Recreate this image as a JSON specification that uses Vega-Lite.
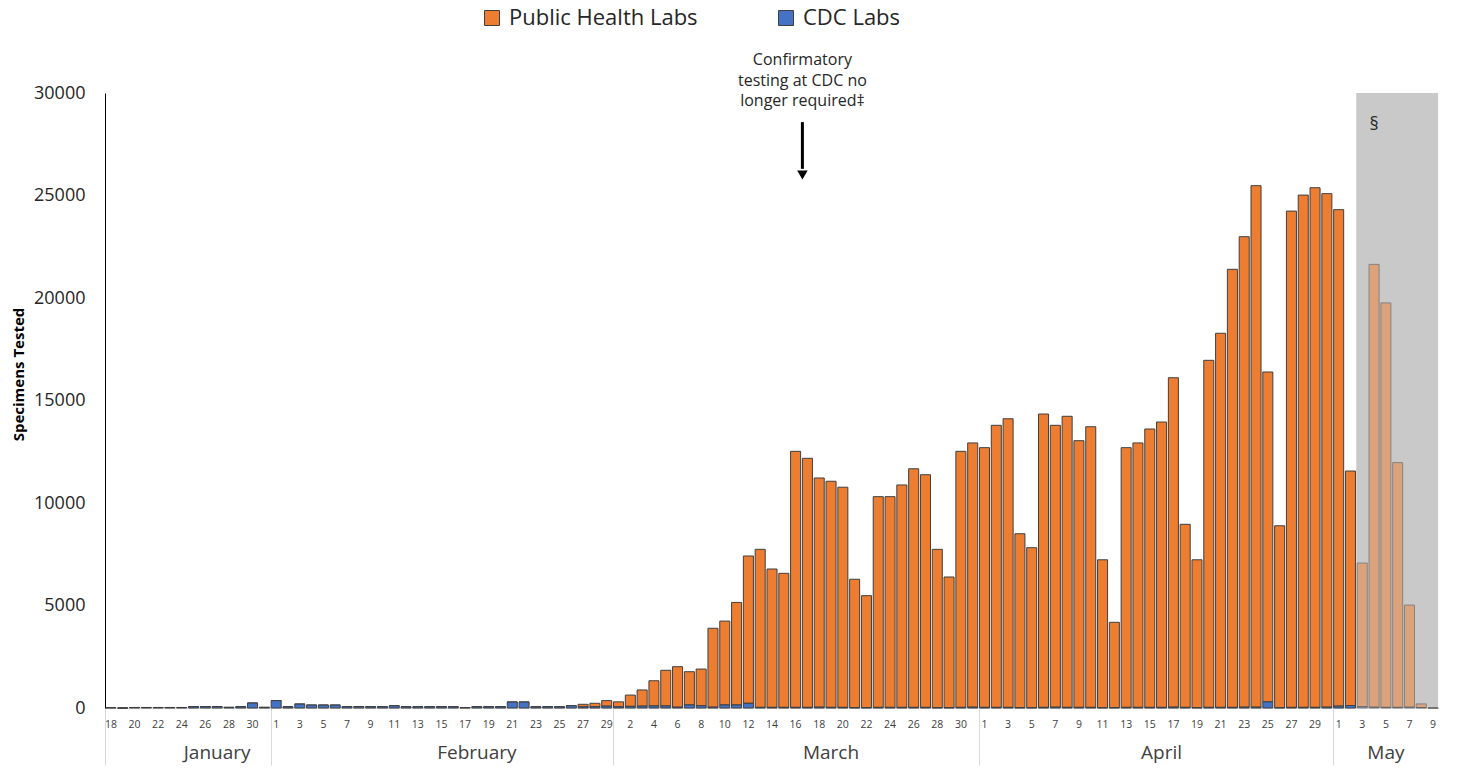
{
  "$schema": "https://vega.github.io/schema/vega-lite/v6.json",
  "width": 1334,
  "height": 615,
  "autosize": {"type": "none"},
  "padding": {"left": 105, "top": 93, "right": 28, "bottom": 61},
  "background": "white",
  "config": {"view": {"stroke": null}, "axis": {"grid": false}, "font": "Open Sans"},
  "data": {"values": [
    {"date": "2020-01-18", "cdc": 20, "phl": 0},
    {"date": "2020-01-19", "cdc": 0, "phl": 0},
    {"date": "2020-01-20", "cdc": 25, "phl": 0},
    {"date": "2020-01-21", "cdc": 25, "phl": 0},
    {"date": "2020-01-22", "cdc": 25, "phl": 0},
    {"date": "2020-01-23", "cdc": 25, "phl": 0},
    {"date": "2020-01-24", "cdc": 25, "phl": 0},
    {"date": "2020-01-25", "cdc": 60, "phl": 0},
    {"date": "2020-01-26", "cdc": 70, "phl": 0},
    {"date": "2020-01-27", "cdc": 70, "phl": 0},
    {"date": "2020-01-28", "cdc": 30, "phl": 0},
    {"date": "2020-01-29", "cdc": 60, "phl": 0},
    {"date": "2020-01-30", "cdc": 240, "phl": 0},
    {"date": "2020-01-31", "cdc": 30, "phl": 0},
    {"date": "2020-02-01", "cdc": 360, "phl": 0},
    {"date": "2020-02-02", "cdc": 60, "phl": 0},
    {"date": "2020-02-03", "cdc": 190, "phl": 0},
    {"date": "2020-02-04", "cdc": 140, "phl": 0},
    {"date": "2020-02-05", "cdc": 140, "phl": 0},
    {"date": "2020-02-06", "cdc": 140, "phl": 0},
    {"date": "2020-02-07", "cdc": 70, "phl": 0},
    {"date": "2020-02-08", "cdc": 70, "phl": 0},
    {"date": "2020-02-09", "cdc": 60, "phl": 0},
    {"date": "2020-02-10", "cdc": 60, "phl": 0},
    {"date": "2020-02-11", "cdc": 110, "phl": 0},
    {"date": "2020-02-12", "cdc": 60, "phl": 0},
    {"date": "2020-02-13", "cdc": 60, "phl": 0},
    {"date": "2020-02-14", "cdc": 60, "phl": 0},
    {"date": "2020-02-15", "cdc": 60, "phl": 0},
    {"date": "2020-02-16", "cdc": 60, "phl": 0},
    {"date": "2020-02-17", "cdc": 20, "phl": 0},
    {"date": "2020-02-18", "cdc": 60, "phl": 0},
    {"date": "2020-02-19", "cdc": 60, "phl": 0},
    {"date": "2020-02-20", "cdc": 60, "phl": 0},
    {"date": "2020-02-21", "cdc": 290, "phl": 0},
    {"date": "2020-02-22", "cdc": 290, "phl": 0},
    {"date": "2020-02-23", "cdc": 60, "phl": 0},
    {"date": "2020-02-24", "cdc": 60, "phl": 0},
    {"date": "2020-02-25", "cdc": 60, "phl": 0},
    {"date": "2020-02-26", "cdc": 110, "phl": 0},
    {"date": "2020-02-27", "cdc": 60, "phl": 120},
    {"date": "2020-02-28", "cdc": 60, "phl": 170},
    {"date": "2020-02-29", "cdc": 90, "phl": 270},
    {"date": "2020-03-01", "cdc": 60, "phl": 240},
    {"date": "2020-03-02", "cdc": 80, "phl": 550},
    {"date": "2020-03-03", "cdc": 90, "phl": 790},
    {"date": "2020-03-04", "cdc": 100, "phl": 1230},
    {"date": "2020-03-05", "cdc": 100, "phl": 1740},
    {"date": "2020-03-06", "cdc": 40, "phl": 1975},
    {"date": "2020-03-07", "cdc": 150, "phl": 1620},
    {"date": "2020-03-08", "cdc": 110, "phl": 1790},
    {"date": "2020-03-09", "cdc": 40, "phl": 3850},
    {"date": "2020-03-10", "cdc": 150, "phl": 4090},
    {"date": "2020-03-11", "cdc": 150, "phl": 5000},
    {"date": "2020-03-12", "cdc": 230, "phl": 7185},
    {"date": "2020-03-13", "cdc": 30, "phl": 7710},
    {"date": "2020-03-14", "cdc": 30, "phl": 6750},
    {"date": "2020-03-15", "cdc": 30, "phl": 6540},
    {"date": "2020-03-16", "cdc": 30, "phl": 12490},
    {"date": "2020-03-17", "cdc": 30, "phl": 12150},
    {"date": "2020-03-18", "cdc": 40, "phl": 11180},
    {"date": "2020-03-19", "cdc": 30, "phl": 11030},
    {"date": "2020-03-20", "cdc": 30, "phl": 10740},
    {"date": "2020-03-21", "cdc": 20, "phl": 6260},
    {"date": "2020-03-22", "cdc": 20, "phl": 5460},
    {"date": "2020-03-23", "cdc": 30, "phl": 10280},
    {"date": "2020-03-24", "cdc": 30, "phl": 10280},
    {"date": "2020-03-25", "cdc": 30, "phl": 10850},
    {"date": "2020-03-26", "cdc": 30, "phl": 11640},
    {"date": "2020-03-27", "cdc": 30, "phl": 11350},
    {"date": "2020-03-28", "cdc": 20, "phl": 7720},
    {"date": "2020-03-29", "cdc": 20, "phl": 6370},
    {"date": "2020-03-30", "cdc": 30, "phl": 12490},
    {"date": "2020-03-31", "cdc": 40, "phl": 12890},
    {"date": "2020-04-01", "cdc": 30, "phl": 12670},
    {"date": "2020-04-02", "cdc": 30, "phl": 13760},
    {"date": "2020-04-03", "cdc": 30, "phl": 14080},
    {"date": "2020-04-04", "cdc": 20, "phl": 8480},
    {"date": "2020-04-05", "cdc": 20, "phl": 7800},
    {"date": "2020-04-06", "cdc": 30, "phl": 14310},
    {"date": "2020-04-07", "cdc": 40, "phl": 13750},
    {"date": "2020-04-08", "cdc": 30, "phl": 14200},
    {"date": "2020-04-09", "cdc": 30, "phl": 13010},
    {"date": "2020-04-10", "cdc": 30, "phl": 13690},
    {"date": "2020-04-11", "cdc": 20, "phl": 7210},
    {"date": "2020-04-12", "cdc": 20, "phl": 4160},
    {"date": "2020-04-13", "cdc": 30, "phl": 12670},
    {"date": "2020-04-14", "cdc": 30, "phl": 12900},
    {"date": "2020-04-15", "cdc": 30, "phl": 13580},
    {"date": "2020-04-16", "cdc": 30, "phl": 13920},
    {"date": "2020-04-17", "cdc": 40, "phl": 16070},
    {"date": "2020-04-18", "cdc": 30, "phl": 8930},
    {"date": "2020-04-19", "cdc": 20, "phl": 7210},
    {"date": "2020-04-20", "cdc": 30, "phl": 16930},
    {"date": "2020-04-21", "cdc": 30, "phl": 18250},
    {"date": "2020-04-22", "cdc": 30, "phl": 21370},
    {"date": "2020-04-23", "cdc": 40, "phl": 22950},
    {"date": "2020-04-24", "cdc": 40, "phl": 25440},
    {"date": "2020-04-25", "cdc": 300, "phl": 16090},
    {"date": "2020-04-26", "cdc": 20, "phl": 8870},
    {"date": "2020-04-27", "cdc": 30, "phl": 24210},
    {"date": "2020-04-28", "cdc": 30, "phl": 24990},
    {"date": "2020-04-29", "cdc": 30, "phl": 25350},
    {"date": "2020-04-30", "cdc": 40, "phl": 25050},
    {"date": "2020-05-01", "cdc": 90, "phl": 24220},
    {"date": "2020-05-02", "cdc": 120, "phl": 11440},
    {"date": "2020-05-03", "cdc": 60, "phl": 7010},
    {"date": "2020-05-04", "cdc": 40, "phl": 21600},
    {"date": "2020-05-05", "cdc": 30, "phl": 19730},
    {"date": "2020-05-06", "cdc": 30, "phl": 11940},
    {"date": "2020-05-07", "cdc": 40, "phl": 4980},
    {"date": "2020-05-08", "cdc": 20, "phl": 180},
    {"date": "2020-05-09", "cdc": 0, "phl": 0}
  ]},
  "resolve": {"axis": {"x": "independent"}},
  "layer": [
    {
      "data": {"values": [{}]},
      "mark": {"type": "rect", "color": "#C9C9C9"},
      "encoding": {
        "x": {"datum": "2020-05-03", "type": "ordinal", "bandPosition": -0.1, "axis": null},
        "x2": {"datum": "2020-05-09", "bandPosition": 1},
        "y": {"datum": 0, "type": "quantitative"},
        "y2": {"datum": 30000}
      }
    },
    {
      "transform": [{"fold": ["phl", "cdc"], "as": ["lab", "value"]}],
      "mark": {"type": "bar", "stroke": "#3F3F3F", "strokeWidth": 1},
      "encoding": {
        "x": {
          "field": "date", "type": "ordinal",
          "scale": {"type": "band", "paddingInner": 0.15, "paddingOuter": 0.075},
          "axis": {
            "title": null, "ticks": false, "domainColor": "#D9D9D9", "domainWidth": 1,
            "labelAngle": 0, "labelFontSize": 10.5, "labelColor": "#404040", "labelPadding": 11,
            "labelOverlap": false, "labelBound": false, "labelFlush": false,
            "labelExpr": "((toDate(datum.value) - toDate('2020-01-18')) / 86400000) % 2 == 0 ? '' + utcdate(toDate(datum.value)) : ''"
          }
        },
        "y": {
          "field": "value", "type": "quantitative", "stack": "zero",
          "scale": {"domain": [0, 30000]},
          "title": "Specimens Tested",
          "axis": {
            "values": [0, 5000, 10000, 15000, 20000, 25000, 30000], "format": "d",
            "ticks": false, "domainColor": "#000000", "domainWidth": 1,
            "labelFontSize": 18, "labelColor": "#262626", "labelPadding": 20,
            "titleFontSize": 15, "titleFontWeight": "bold", "titleColor": "#000000", "titlePadding": 7,
            "titleY": 281
          }
        },
        "color": {
          "field": "lab", "type": "nominal",
          "scale": {"domain": ["phl", "cdc"], "range": ["#ED7D31", "#4472C4"]},
          "legend": {
            "orient": "none", "legendX": 376, "legendY": -86, "direction": "horizontal",
            "title": null, "symbolType": "square", "symbolSize": 225,
            "symbolStrokeColor": "#404040", "symbolStrokeWidth": 1, "symbolOpacity": 1,
            "labelFontSize": 22, "labelColor": "#262626", "labelOffset": 6, "labelLimit": 0,
            "columnPadding": 77, "padding": 0,
            "labelExpr": "datum.value == 'phl' ? 'Public Health Labs' : 'CDC Labs'"
          }
        },
        "order": {"field": "lab", "type": "ordinal", "sort": "ascending"},
        "opacity": {"condition": {"test": "datum.date >= '2020-05-03'", "value": 0.5}, "value": 1}
      }
    },
    {
      "mark": {"type": "bar", "opacity": 0},
      "encoding": {
        "x": {
          "field": "date", "type": "ordinal",
          "axis": {
            "orient": "bottom", "title": null, "domain": false, "bandPosition": 0,
            "tickSize": 57, "tickColor": "#D9D9D9", "tickWidth": 1,
            "tickOpacity": {"condition": {"test": "utcdate(toDate(datum.value)) == 1 || datum.value == '2020-01-18'", "value": 1}, "value": 0},
            "labelAngle": 0, "labelFontSize": 19, "labelColor": "#404040", "labelPadding": -22,
            "labelOverlap": false, "labelBound": false, "labelFlush": false,
            "labelExpr": "datum.value == '2020-01-27' ? 'January' : datum.value == '2020-02-18' ? 'February' : datum.value == '2020-03-19' ? 'March' : datum.value == '2020-04-16' ? 'April' : datum.value == '2020-05-05' ? 'May' : ''"
          }
        }
      }
    },
    {
      "data": {"values": [{}]},
      "mark": {"type": "rule", "color": "#000000", "strokeWidth": 3},
      "encoding": {
        "x": {"datum": "2020-03-17", "type": "ordinal", "bandPosition": 0, "axis": null},
        "y": {"datum": 28580, "type": "quantitative"},
        "y2": {"datum": 26300}
      }
    },
    {
      "data": {"values": [{}]},
      "mark": {"type": "point", "shape": "triangle-down", "filled": true, "color": "#000000", "size": 110, "opacity": 1},
      "encoding": {
        "x": {"datum": "2020-03-17", "type": "ordinal", "bandPosition": 0, "axis": null},
        "y": {"datum": 26000, "type": "quantitative"}
      }
    },
    {
      "data": {"values": [{}]},
      "mark": {"type": "text", "text": ["Confirmatory", "testing at CDC no", "longer required‡"], "fontSize": 16, "lineHeight": 20.5, "baseline": "top", "align": "center", "color": "#262626"},
      "encoding": {
        "x": {"datum": "2020-03-17", "type": "ordinal", "bandPosition": 0, "axis": null},
        "y": {"datum": 32000, "type": "quantitative"}
      }
    },
    {
      "data": {"values": [{}]},
      "mark": {"type": "text", "text": "§", "fontSize": 18, "baseline": "middle", "align": "center", "color": "#262626"},
      "encoding": {
        "x": {"datum": "2020-05-04", "type": "ordinal", "axis": null},
        "y": {"datum": 28440, "type": "quantitative"}
      }
    }
  ]
}
